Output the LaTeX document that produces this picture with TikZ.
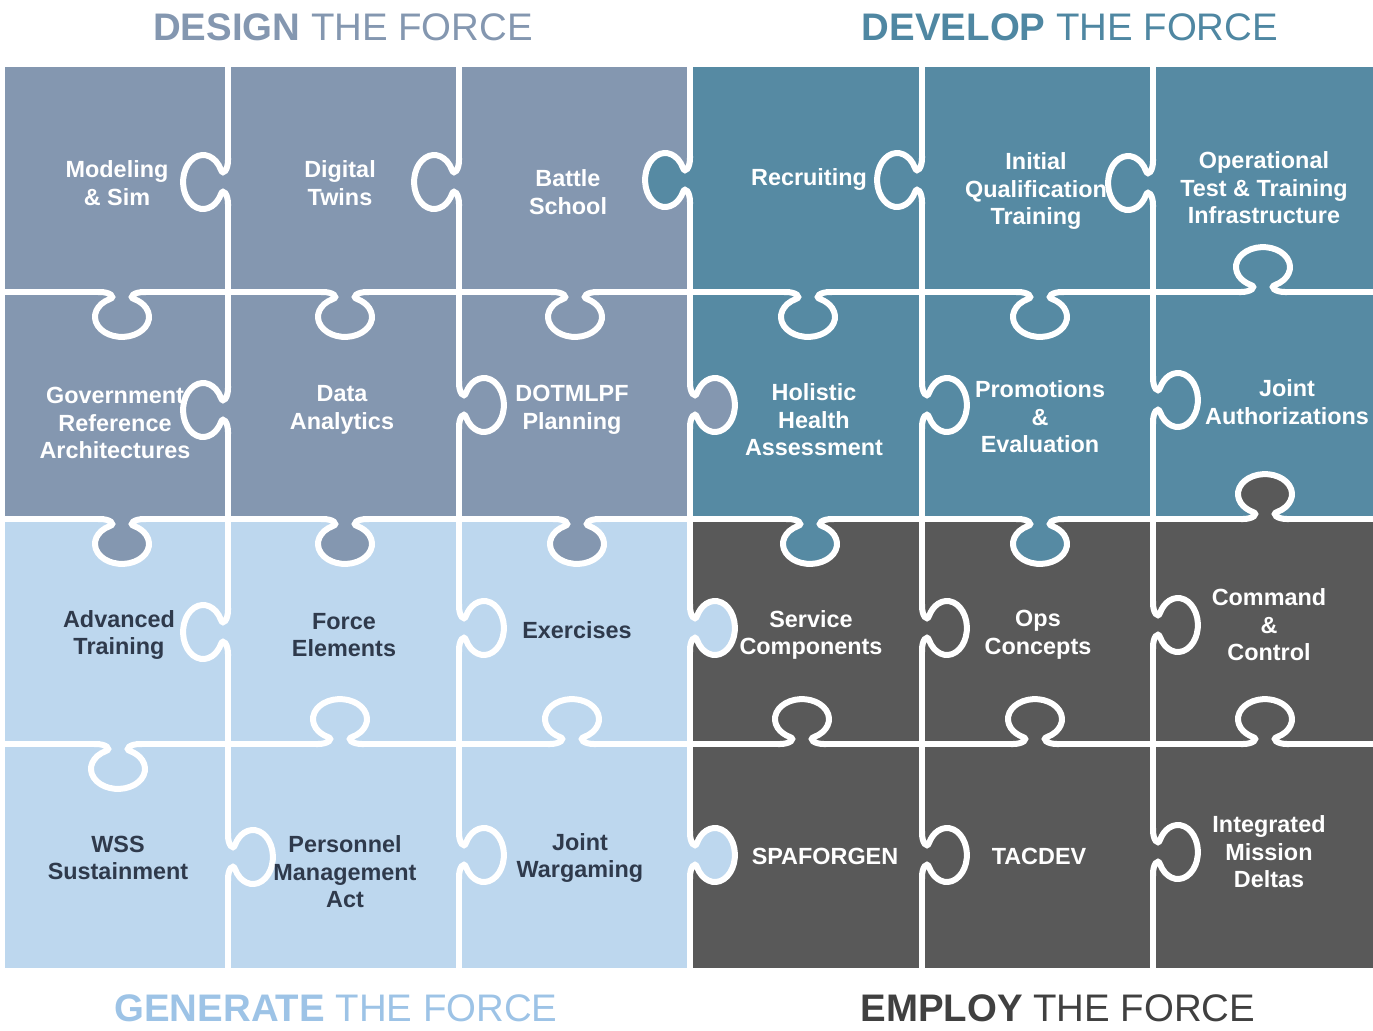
\documentclass[tikz,border=0pt]{standalone}
\usepackage{fontspec}
\setmainfont{Liberation Sans}
\usepackage{tikz}

\definecolor{designc}{HTML}{8497B0}
\definecolor{developc}{HTML}{568AA3}
\definecolor{generatec}{HTML}{BDD7EE}
\definecolor{employc}{HTML}{595959}
\definecolor{developtitle}{HTML}{4F87A2}
\definecolor{generatetitle}{HTML}{9DC3E6}
\definecolor{employtitle}{HTML}{404040}
\definecolor{lighttext}{HTML}{2F3A4C}

\tikzset{
  seam/.style={draw=white,line width=3pt},
  piece/.style={align=center,text=white,font=\fontsize{11.7}{13.8}\selectfont\bfseries},
  lightpiece/.style={piece,text=lighttext},
  title/.style={font=\fontsize{19.2}{22}\selectfont},
  pics/knob/.style={code={
    \fill[#1] (-22,-3) -- (-22,0) .. controls (-12,0) and (-6.4,4.9) .. (-12,7)
      arc[start angle=243.6,end angle=-63.6,x radius=27,y radius=20]
      .. controls (6.4,4.9) and (12,0) .. (22,0) -- (22,-3) -- cycle;
    \draw[seam] (-24,0) -- (-22,0) .. controls (-12,0) and (-6.4,4.9) .. (-12,7)
      arc[start angle=243.6,end angle=-63.6,x radius=27,y radius=20]
      .. controls (6.4,4.9) and (12,0) .. (22,0) -- (24,0);
  }}
}

\begin{document}
\begin{tikzpicture}[x=0.5pt,y=-0.5pt]
  \useasboundingbox (0,0) rectangle (1373,1030);

  %quarters
  \fill[designc] (5,67) rectangle (690,519);
  \fill[developc] (690,67) rectangle (1373,519);
  \fill[generatec] (5,519) rectangle (690,968);
  \fill[employc] (690,519) rectangle (1373,968);

  %grid
  \foreach \x in {228,459,690,922,1153}
    \draw[seam] (\x,67) -- (\x,968);
  \foreach \y in {292,519,744}
    \draw[seam] (5,\y) -- (1373,\y);

  %knobs, rotate: 0 down, 90 right, 180 up, -90 left
  \foreach \x/\y/\r/\c in {228/182/-90/designc,459/182/-90/designc,690/180/-90/developc,922/180/-90/developc,1153/183/-90/developc,
      122/292/0/designc,345/292/0/designc,575/292/0/designc,808/292/0/developc,1040/292/0/developc,1263/292/180/developc,
      228/410/-90/designc,459/405/90/designc,690/405/90/designc,922/405/90/developc,1153/400/90/developc,
      122/519/0/designc,345/519/0/designc,577/519/0/designc,810/519/0/developc,1040/519/0/developc,1265/519/180/employc,
      228/632/-90/generatec,459/628/90/generatec,690/628/90/generatec,922/628/90/employc,1153/625/90/employc,
      118/744/0/generatec,340/744/180/generatec,572/744/180/generatec,802/744/180/employc,1035/744/180/employc,1265/744/180/employc,
      228/857/90/generatec,459/855/90/generatec,690/855/90/generatec,922/855/90/employc,1153/852/90/employc}
    \pic[rotate=\r] at (\x,\y) {knob=\c};

  %design
  \node[piece] (modsim) at (117,183) {Modeling\\\& Sim};
  \node[piece] (twins) at (340,183) {Digital\\Twins};
  \node[piece] (school) at (568,192) {Battle\\School};
  \node[piece] (gra) at (115,423) {Government\\Reference\\Architectures};
  \node[piece] (analytics) at (342,410) {Data\\Analytics};
  \node[piece] (dotmlpf) at (572,410) {DOTMLPF\\Planning};

  %develop
  \node[piece] (recruit) at (809,179) {Recruiting};
  \node[piece] (iqt) at (1036,191) {Initial\\Qualification\\Training};
  \node[piece] (optest) at (1264,188) {Operational\\Test \& Training\\Infrastructure};
  \node[piece] (hha) at (814,420) {Holistic\\Health\\Assessment};
  \node[piece] (promo) at (1040,417) {Promotions\\\&\\Evaluation};
  \node[piece] (jointauth) at (1287,402) {Joint\\Authorizations};

  %generate
  \node[lightpiece] (advtrain) at (119,635) {Advanced\\Training};
  \node[lightpiece] (elements) at (344,635) {Force\\Elements};
  \node[lightpiece] (exercises) at (577,630) {Exercises};
  \node[lightpiece] (wss) at (118,858) {WSS\\Sustainment};
  \node[lightpiece] (pma) at (345,872) {Personnel\\Management\\Act};
  \node[lightpiece] (wargame) at (580,858) {Joint\\Wargaming};

  %employ
  \node[piece] (service) at (811,635) {Service\\Components};
  \node[piece] (opscon) at (1038,635) {Ops\\Concepts};
  \node[piece] (c2) at (1269,625) {Command\\\&\\Control};
  \node[piece] (spaforgen) at (825,856) {SPAFORGEN};
  \node[piece] (tacdev) at (1039,856) {TACDEV};
  \node[piece] (imd) at (1269,852) {Integrated\\Mission\\Deltas};

  %titles
  \node[title,text=designc] (designt) at (343,27) {\textbf{DESIGN} THE FORCE};
  \node[title,text=developtitle] (developt) at (1070,27) {\textbf{DEVELOP} THE FORCE};
  \node[title,text=generatetitle] (generatet) at (336,1008) {\textbf{GENERATE} THE FORCE};
  \node[title,text=employtitle] (employt) at (1058,1008) {\textbf{EMPLOY} THE FORCE};
\end{tikzpicture}
\end{document}
